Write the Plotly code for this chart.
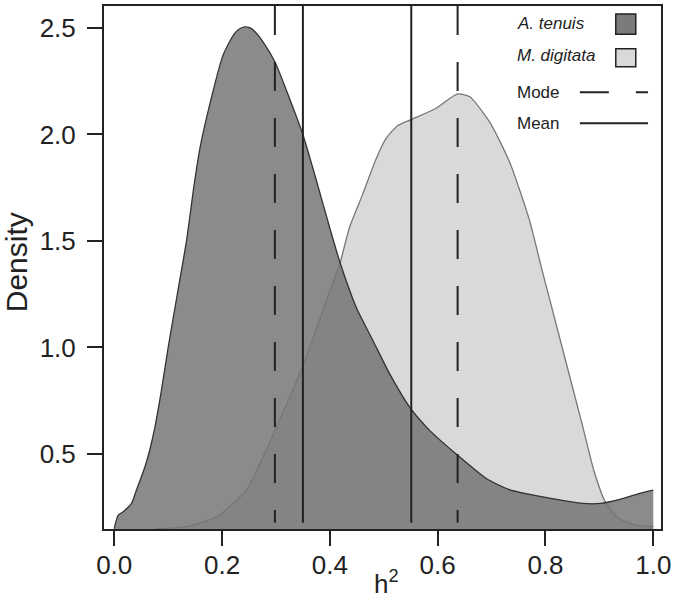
import plotly.graph_objects as go

# A. tenuis density curve (h2 -> density)
tenuis_x = [0.0, 0.0074, 0.0167, 0.032, 0.041, 0.048, 0.057, 0.066, 0.075, 0.087, 0.1,
            0.117, 0.134, 0.148, 0.159, 0.177, 0.202, 0.222, 0.232, 0.242, 0.252, 0.262,
            0.276, 0.298, 0.325, 0.35, 0.372, 0.4, 0.419, 0.449, 0.48, 0.511, 0.548,
            0.585, 0.637, 0.69, 0.733, 0.8, 0.869, 0.902, 0.943, 0.975, 1.0]
tenuis_y = [0.15, 0.213, 0.229, 0.268, 0.33, 0.377, 0.44, 0.52, 0.62, 0.79, 1.0,
            1.25, 1.5, 1.76, 1.936, 2.139, 2.373, 2.47, 2.495, 2.505, 2.5, 2.48,
            2.435, 2.341, 2.17, 1.999, 1.811, 1.56, 1.398, 1.188, 1.032, 0.876, 0.72,
            0.611, 0.494, 0.385, 0.333, 0.296, 0.268, 0.268, 0.291, 0.315, 0.33]

# M. digitata density curve
digitata_x = [0.077, 0.134, 0.19, 0.245, 0.298, 0.35, 0.4, 0.419, 0.436, 0.461, 0.485,
              0.504, 0.525, 0.551, 0.597, 0.637, 0.659, 0.696, 0.733, 0.77, 0.794,
              0.831, 0.869, 0.89, 0.91, 0.935, 0.967, 1.0]
digitata_y = [0.148, 0.159, 0.205, 0.33, 0.61, 0.915, 1.265, 1.398, 1.56, 1.72, 1.88,
              1.98, 2.04, 2.07, 2.123, 2.19, 2.178, 2.06, 1.873, 1.6, 1.36,
              1.0, 0.63, 0.42, 0.28, 0.2, 0.167, 0.159]

mode_values = [0.298, 0.637]
mean_values = [0.35, 0.551]

x_ticks = [0.0, 0.2, 0.4, 0.6, 0.8, 1.0]
y_ticks = [0.5, 1.0, 1.5, 2.0, 2.5]

FONT = "Liberation Sans, Arial, sans-serif"
INK = "#222222"
DASH = "29px,27px"

fig = go.Figure()

fig.add_trace(go.Scatter(x=digitata_x, y=digitata_y, mode="none", fill="tozeroy",
                         fillcolor="#d9d9d9", hoverinfo="skip"))
fig.add_trace(go.Scatter(x=tenuis_x, y=tenuis_y, mode="none", fill="tozeroy",
                         fillcolor="rgba(114,114,114,0.82)", hoverinfo="skip"))
fig.add_trace(go.Scatter(x=digitata_x, y=digitata_y, mode="lines",
                         line=dict(color="#777777", width=1.3, shape="spline", smoothing=0.6),
                         name="M. digitata"))
fig.add_trace(go.Scatter(x=tenuis_x, y=tenuis_y, mode="lines",
                         line=dict(color="#333333", width=1.3, shape="spline", smoothing=0.6),
                         name="A. tenuis"))

# mode / mean lines, drawn top-down so the dash pattern starts at the top border
for v in mode_values:
    fig.add_shape(type="line", xref="x", yref="paper", x0=v, x1=v, y0=1, y1=0.012,
                  line=dict(color=INK, width=2, dash=DASH))
for v in mean_values:
    fig.add_shape(type="line", xref="x", yref="paper", x0=v, x1=v, y0=1, y1=0.012,
                  line=dict(color=INK, width=2))

# legend, drawn by hand
legend_rows = [
    ("<i>A. tenuis</i>", 0.9657),
    ("<i>M. digitata</i>", 0.9048),
    ("Mode", 0.8349),
    ("Mean", 0.7758),
]
for text, yp in legend_rows:
    fig.add_annotation(x=0.7378, y=yp, xref="paper", yref="paper", text=text,
                       showarrow=False, xanchor="left", yanchor="middle",
                       font=dict(family=FONT, size=17, color=INK))

fig.add_shape(type="rect", xref="paper", yref="paper", x0=0.9188, x1=0.9547,
              y0=0.9461, y1=0.9848, fillcolor="#7b7b7b", line=dict(color=INK, width=1.5))
fig.add_shape(type="rect", xref="paper", yref="paper", x0=0.9188, x1=0.9547,
              y0=0.8838, y1=0.9181, fillcolor="#d9d9d9", line=dict(color=INK, width=1.5))
fig.add_shape(type="line", xref="paper", yref="paper", x0=0.8543, x1=0.9767,
              y0=0.8349, y1=0.8349, line=dict(color=INK, width=2, dash=DASH))
fig.add_shape(type="line", xref="paper", yref="paper", x0=0.8543, x1=0.9767,
              y0=0.7758, y1=0.7758, line=dict(color=INK, width=2))

# axis titles
fig.add_annotation(x=-0.158, y=0.51, xref="paper", yref="paper", text="Density",
                   textangle=-90, showarrow=False, xanchor="center", yanchor="middle",
                   font=dict(family=FONT, size=30, color=INK))
fig.add_annotation(x=0.507, y=-0.103, xref="paper", yref="paper", text="h<sup>2</sup>",
                   showarrow=False, xanchor="center", yanchor="middle",
                   font=dict(family=FONT, size=26, color=INK))

axis_common = dict(showline=True, linecolor=INK, linewidth=2, mirror=True,
                   ticks="outside", ticklen=15, tickwidth=2, tickcolor=INK,
                   showgrid=False, zeroline=False,
                   tickfont=dict(family=FONT, size=26, color=INK))

fig.update_xaxes(range=[-0.019, 1.0143], tickvals=x_ticks, tickformat=".1f",
                 ticklabelstandoff=-3, **axis_common)
fig.update_yaxes(range=[0.148, 2.603], tickvals=y_ticks, tickformat=".1f",
                 ticklabelstandoff=6, **axis_common)

fig.update_layout(
    width=675, height=601,
    margin=dict(l=104, r=13, t=4, b=72),
    plot_bgcolor="white", paper_bgcolor="white",
    showlegend=False,
    font=dict(family=FONT, color=INK),
)

fig.write_html("out.html", config={"displayModeBar": False},
               post_script="document.body.style.margin='0';")
